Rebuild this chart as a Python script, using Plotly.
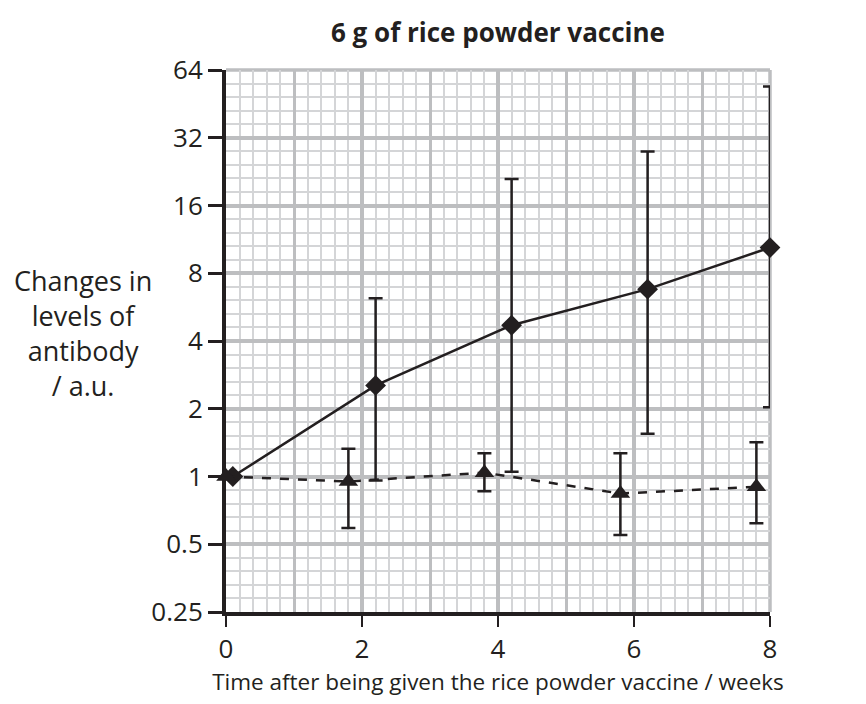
"""Antibody response to 6 g of rice powder vaccine."""

import numpy as np
import plotly.graph_objects as go

# solid line, diamonds
weeks_diamond = [0.1, 2.2, 4.2, 6.2, 8.0]
level_diamond = [1.0, 2.54, 4.7, 6.8, 10.4]
upper_diamond = [1.0, 6.2, 21.0, 27.8, 54.0]
lower_diamond = [1.0, 0.96, 1.05, 1.55, 2.03]

# dashed line, triangles
weeks_triangle = [0.0, 1.8, 3.8, 5.8, 7.8]
level_triangle = [1.0, 0.95, 1.04, 0.84, 0.90]
upper_triangle = [1.0, 1.33, 1.27, 1.27, 1.42]
lower_triangle = [1.0, 0.59, 0.86, 0.55, 0.62]

y_tick_values = [0.25, 0.5, 1, 2, 4, 8, 16, 32, 64]
y_tick_labels = ["0.25", "0.5", "1", "2", "4", "8", "16", "32", "64"]
x_tick_values = [0, 2, 4, 6, 8]
x_tick_labels = ["0", "2", "4", "6", "8"]

y_title_lines = ["Changes in", "levels of", "antibody", "/ a.u."]

FONT = "Open Sans, Noto Sans, sans-serif"
INK = "#231f20"
MAJOR_GRID = "#bdbec0"
MINOR_GRID = "#d4d5d7"

# five minor divisions per doubling on the log axis
y_minor = [0.25 * 2 ** (k / 5) for k in range(0, 41) if k % 5]


def error_kwargs(level, upper, lower):
    level = np.asarray(level)
    return dict(
        type="data",
        symmetric=False,
        array=np.asarray(upper) - level,
        arrayminus=level - np.asarray(lower),
        color=INK,
        thickness=2.5,
        width=7,
    )


fig = go.Figure()

# invisible trace so the overlay axis carrying the 1-week grid is drawn
fig.add_trace(
    go.Scatter(
        x=[weeks_triangle[0]],
        y=[level_triangle[0]],
        xaxis="x2",
        mode="markers",
        marker=dict(opacity=0),
        hoverinfo="skip",
        showlegend=False,
    )
)
fig.add_trace(
    go.Scatter(
        x=weeks_diamond,
        y=level_diamond,
        mode="lines+markers",
        line=dict(color=INK, width=2.5),
        marker=dict(symbol="diamond", size=16, color=INK),
        error_y=error_kwargs(level_diamond, upper_diamond, lower_diamond),
        cliponaxis=False,
        showlegend=False,
    )
)
fig.add_trace(
    go.Scatter(
        x=weeks_triangle,
        y=level_triangle,
        mode="lines+markers",
        line=dict(color=INK, width=2.5, dash="dash"),
        marker=dict(symbol="triangle-up", size=17, color=INK),
        error_y=error_kwargs(level_triangle, upper_triangle, lower_triangle),
        cliponaxis=False,
        showlegend=False,
    )
)

fig.add_annotation(
    text="<br>".join(y_title_lines),
    xref="paper",
    yref="paper",
    x=-0.263,
    y=0.514,
    xanchor="center",
    yanchor="middle",
    align="center",
    showarrow=False,
    font=dict(family=FONT, size=27, color=INK),
)

# grey edges at 64 and at 8 weeks, like the last grid lines of the paper
fig.add_shape(type="line", xref="paper", yref="paper", x0=0, x1=1, y0=1, y1=1,
              line=dict(color=MAJOR_GRID, width=3.5), layer="below")
fig.add_shape(type="line", xref="paper", yref="paper", x0=1, x1=1, y0=0, y1=1,
              line=dict(color=MAJOR_GRID, width=3.5), layer="below")

fig.update_layout(
    width=866,
    height=704,
    margin=dict(l=218, r=104, t=62, b=100),
    paper_bgcolor="white",
    plot_bgcolor="white",
    title=dict(
        text="<b>6 g of rice powder vaccine</b>",
        x=0.5,
        xref="paper",
        y=0.9645,
        yanchor="middle",
        font=dict(family=FONT, size=26, color=INK),
    ),
    xaxis=dict(
        range=[0, 8],
        tickvals=x_tick_values,
        ticktext=x_tick_labels,
        ticks="outside",
        ticklen=11,
        tickwidth=2,
        tickcolor=INK,
        tickfont=dict(family=FONT, size=26, color=INK),
        showline=True,
        linecolor=INK,
        linewidth=4,
        showgrid=True,
        gridcolor=MAJOR_GRID,
        gridwidth=3.5,
        zeroline=False,
        minor=dict(dtick=0.2, showgrid=True, gridcolor=MINOR_GRID, gridwidth=1.5),
        title=dict(
            text="Time after being given the rice powder vaccine / weeks",
            font=dict(family=FONT, size=22.5, color=INK),
            standoff=6,
        ),
        layer="below traces",
    ),
    xaxis2=dict(
        overlaying="x",
        anchor="y",
        range=[0, 8],
        dtick=1,
        showticklabels=False,
        ticks="",
        showgrid=True,
        gridcolor=MAJOR_GRID,
        gridwidth=2.5,
        zeroline=False,
        showline=False,
    ),
    yaxis=dict(
        type="log",
        range=[np.log10(0.25), np.log10(64)],
        tickvals=y_tick_values,
        ticktext=y_tick_labels,
        ticks="outside",
        ticklen=14,
        tickwidth=2.5,
        tickcolor=INK,
        tickfont=dict(family=FONT, size=26, color=INK),
        showline=True,
        linecolor=INK,
        linewidth=4,
        showgrid=True,
        gridcolor=MAJOR_GRID,
        gridwidth=3.5,
        zeroline=False,
        minor=dict(tickvals=y_minor, showgrid=True, gridcolor=MINOR_GRID, gridwidth=1.5),
    ),
)

fig.write_html("out.html")
